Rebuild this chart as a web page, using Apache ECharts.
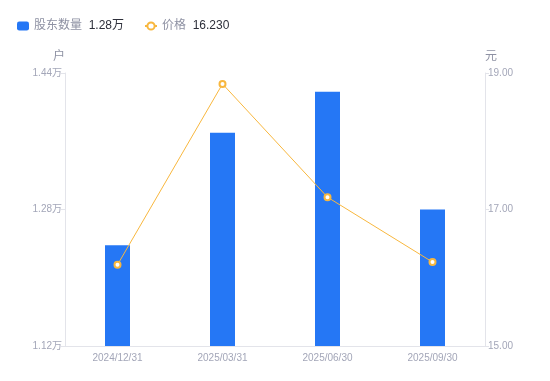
<!DOCTYPE html>
<html>
<head>
<meta charset="utf-8">
<script src="https://cdn.jsdelivr.net/npm/echarts@6/dist/echarts.min.js"></script>
<style>
  html, body { margin: 0; padding: 0; background: #fff; }
  #chart { width: 550px; height: 381px; }
</style>
</head>
<body>
<div id="chart"></div>
<script>
// 报告期
const categories = ['2024/12/31', '2025/03/31', '2025/06/30', '2025/09/30']
// 股东数量（万户）
const holderCounts = [1.238, 1.370, 1.418, 1.280]
// 价格（元）
const prices = [16.19, 18.84, 17.18, 16.23]

// 图例上显示的最新值
const latestValues = {
  '股东数量': holderCounts[holderCounts.length - 1].toFixed(2) + '万',
  '价格': prices[prices.length - 1].toFixed(3)
}

const axisLabelColor = '#a3a6b8'
const axisLineColor = '#e3e4ea'

const chart = echarts.init(document.getElementById('chart'))

chart.setOption({
  animation: false,
  textStyle: { fontFamily: '"Liberation Sans", "Noto Sans CJK SC", sans-serif' },
  legend: {
    left: 12,
    top: 15,
    itemGap: 20,
    itemWidth: 12,
    itemHeight: 9,
    data: [
      { name: '股东数量', icon: 'roundRect' },
      { name: '价格' }
    ],
    formatter: name => `{n|${name}}  {v|${latestValues[name]}}`,
    textStyle: {
      rich: {
        n: { color: '#8e91a3', fontSize: 12 },
        v: { color: '#2d2f3a', fontSize: 12 }
      }
    }
  },
  grid: { left: 65, right: 65, top: 73, bottom: 35 },
  xAxis: {
    type: 'category',
    data: categories,
    axisTick: { show: false },
    axisLine: { lineStyle: { color: axisLineColor } },
    axisLabel: { color: axisLabelColor, fontSize: 10, margin: 7 }
  },
  yAxis: [
    {
      type: 'value',
      name: '户',
      nameLocation: 'end',
      nameGap: 10,
      nameTextStyle: { color: '#8e91a3', fontSize: 12, align: 'right' },
      min: 1.12,
      max: 1.44,
      interval: 0.16,
      axisLine: { show: true, lineStyle: { color: axisLineColor } },
      axisTick: { show: true, length: 4, lineStyle: { color: axisLineColor } },
      splitLine: { show: false },
      axisLabel: {
        color: axisLabelColor,
        fontSize: 10,
        margin: 3,
        formatter: v => v.toFixed(2) + '万'
      }
    },
    {
      type: 'value',
      name: '元',
      nameLocation: 'end',
      nameGap: 10,
      nameTextStyle: { color: '#8e91a3', fontSize: 12, align: 'left' },
      min: 15,
      max: 19,
      interval: 2,
      axisLine: { show: true, lineStyle: { color: axisLineColor } },
      axisTick: { show: true, length: 4, lineStyle: { color: axisLineColor } },
      splitLine: { show: false },
      axisLabel: {
        color: axisLabelColor,
        fontSize: 10,
        margin: 3,
        formatter: v => v.toFixed(2)
      }
    }
  ],
  series: [
    {
      name: '股东数量',
      type: 'bar',
      yAxisIndex: 0,
      barWidth: 25,
      data: holderCounts,
      itemStyle: { color: '#2577f5' }
    },
    {
      name: '价格',
      type: 'line',
      yAxisIndex: 1,
      data: prices,
      symbol: 'emptyCircle',
      symbolSize: 6,
      lineStyle: { color: '#f8b73e', width: 1 },
      itemStyle: { color: '#f8b73e', borderWidth: 2 }
    }
  ]
})
</script>
</body>
</html>
